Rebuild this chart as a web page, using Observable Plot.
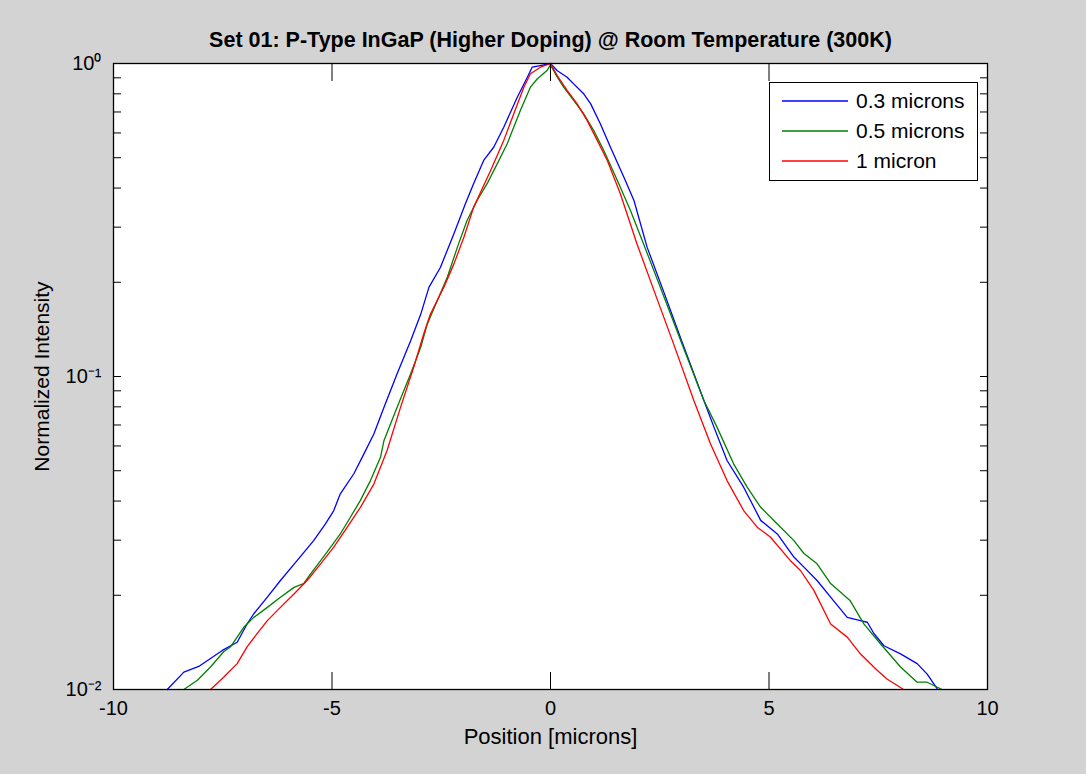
<!DOCTYPE html>
<html><head><meta charset="utf-8">
<script src="https://cdn.jsdelivr.net/npm/d3@7"></script>
<script src="https://cdn.jsdelivr.net/npm/@observablehq/plot@0.6"></script>
<style>
html,body{margin:0;padding:0;background:#d3d3d3;}
body{font-family:"Liberation Sans",Arial,sans-serif;}
#wrap{position:relative;width:1086px;height:774px;overflow:hidden;}
#legend{position:absolute;left:769px;top:82px;width:207px;height:97px;background:#fff;border:1px solid #000;}
.row{position:absolute;left:0;height:30px;display:flex;align-items:center;font-size:21px;color:#000;}
.row svg{margin-left:12px;margin-right:8px;}
</style>
</head><body>
<div id="wrap"></div>
<script>
const title = "Set 01: P-Type InGaP (Higher Doping) @ Room Temperature (300K)";
const xLabel = "Position [microns]";
const yLabel = "Normalized Intensity";
const seriesNames = ["0.3 microns", "0.5 microns", "1 micron"];
const seriesColors = ["#0000ff", "#008000", "#ff0000"];

const xTicks = [-10, -5, 0, 5, 10];
const yMajor = [0.01, 0.1, 1];
const yTickLabels = ["10\u207B\u00B2", "10\u207B\u00B9", "10\u2070"];

// 0.3 microns
const blueX = [-8.77,-8.39,-8.05,-7.51,-7.17,-6.94,-6.79,-6.48,-6.18,-5.80,-5.42,-5.15,-4.96,-4.81,-4.50,-4.27,-4.04,-3.81,-3.51,-3.20,-2.97,-2.78,-2.52,-2.21,-1.95,-1.76,-1.53,-1.30,-1.07,-0.76,-0.53,-0.42,-0.23,0,0.15,0.38,0.53,0.76,0.92,1.14,1.37,1.68,1.91,2.21,2.6,3.0,3.51,3.74,4.04,4.42,4.81,5.19,5.57,5.80,6.10,6.48,6.79,7.09,7.25,7.40,7.63,8.01,8.39,8.62,8.85];
const blueY = [0.0100,0.01136,0.01185,0.01333,0.01416,0.01622,0.01746,0.01972,0.0223,0.0258,0.0299,0.0338,0.0373,0.0422,0.0489,0.0566,0.0656,0.0798,0.102,0.130,0.158,0.193,0.223,0.286,0.356,0.413,0.490,0.540,0.626,0.780,0.904,0.973,0.985,1.0,0.950,0.904,0.861,0.800,0.743,0.642,0.541,0.433,0.365,0.259,0.185,0.130,0.0838,0.0689,0.0539,0.0443,0.0347,0.0314,0.0265,0.0246,0.0223,0.0192,0.0170,0.0166,0.0164,0.0151,0.0138,0.0130,0.0121,0.0112,0.01005];

// 0.5 microns
const greenX = [-8.39,-8.08,-7.78,-7.48,-7.32,-7.17,-7.02,-6.79,-6.48,-6.18,-5.87,-5.65,-5.49,-5.26,-5.03,-4.81,-4.58,-4.35,-4.12,-3.89,-3.81,-3.51,-3.20,-2.97,-2.82,-2.59,-2.36,-2.13,-1.91,-1.68,-1.45,-1.22,-0.99,-0.69,-0.46,-0.30,-0.08,0,0.11,0.30,0.53,0.76,0.99,1.22,1.53,1.83,2.13,2.5,3.0,3.51,3.81,4.19,4.50,4.81,5.19,5.57,5.80,6.10,6.41,6.86,7.17,7.55,8.01,8.39,8.62,8.96];
const greenY = [0.0100,0.0107,0.0118,0.0132,0.0137,0.0147,0.0158,0.0170,0.0183,0.0197,0.0212,0.0218,0.0234,0.0258,0.0285,0.0314,0.0355,0.0402,0.0465,0.0552,0.0625,0.0798,0.102,0.124,0.147,0.175,0.208,0.259,0.315,0.365,0.413,0.478,0.554,0.708,0.840,0.894,0.95,0.99,0.927,0.840,0.762,0.691,0.611,0.527,0.423,0.339,0.265,0.195,0.128,0.0838,0.0689,0.0526,0.0443,0.0382,0.0338,0.0299,0.0272,0.0252,0.0218,0.0192,0.0162,0.0140,0.0118,0.01055,0.01055,0.0100];

// 1 micron
const redX = [-7.78,-7.48,-7.17,-6.94,-6.71,-6.48,-6.18,-5.87,-5.57,-5.26,-4.96,-4.65,-4.35,-4.04,-3.74,-3.43,-3.13,-2.90,-2.75,-2.44,-2.21,-1.98,-1.76,-1.37,-1.07,-0.84,-0.61,-0.46,-0.23,0,0.15,0.38,0.61,0.84,1.07,1.30,1.60,1.98,2.4,2.8,3.28,3.66,4.04,4.42,4.73,5.03,5.49,5.72,6.03,6.41,6.79,7.09,7.48,7.70,8.08];
const redY = [0.0100,0.01094,0.0121,0.0137,0.0151,0.0166,0.0183,0.0202,0.0223,0.0252,0.0285,0.0330,0.0382,0.0454,0.058,0.0798,0.107,0.137,0.158,0.193,0.229,0.279,0.347,0.455,0.568,0.691,0.840,0.927,0.973,1.0,0.916,0.820,0.743,0.657,0.568,0.490,0.383,0.265,0.183,0.129,0.0838,0.0610,0.0465,0.0373,0.0330,0.0307,0.0258,0.0240,0.0207,0.0162,0.0147,0.0130,0.0115,0.0108,0.0100];

const seriesXs = [blueX, greenX, redX];
const seriesYs = [blueY, greenY, redY];
const rows = seriesNames.flatMap((name, s) => seriesXs[s].map((x, i) => ({series: name, x, y: seriesYs[s][i]})));

const yAll = [];
for (const m of [0.01, 0.1]) for (let k = 1; k <= 9; k++) yAll.push(+(m * k).toPrecision(3));
yAll.push(1);

const font = '"Liberation Sans", Arial, sans-serif';
const chart = Plot.plot({
  width: 1086, height: 774,
  marginTop: 63, marginRight: 99, marginBottom: 85, marginLeft: 113,
  style: {background: "transparent", fontFamily: font, fontSize: "20px", color: "#000", overflow: "visible"},
  x: {domain: [-10, 10]},
  y: {type: "log", domain: [0.01, 1]},
  color: {domain: seriesNames, range: seriesColors},
  marks: [
    Plot.frame({fill: "white"}),
    Plot.line(rows, {x: "x", y: "y", z: "series", stroke: "series", strokeWidth: 1.3}),
    Plot.frame({stroke: "black", strokeWidth: 1.3}),
    Plot.axisX(xTicks, {anchor: "bottom", tickSize: 0, tickPadding: 11, tickFormat: d => String(d), label: null, fontSize: 20}),
    Plot.axisX(xTicks, {anchor: "bottom", tickSize: 17, dy: -17, tickFormat: () => "", label: null, stroke: "black"}),
    Plot.axisX(xTicks, {anchor: "top", tickSize: 17, dy: 17, tickFormat: () => "", label: null, stroke: "black"}),
    Plot.axisY(yMajor, {anchor: "left", tickSize: 0, tickPadding: 12, tickFormat: d => yTickLabels[yMajor.indexOf(d)], label: null, fontSize: 20}),
    Plot.axisY(yAll, {anchor: "left", tickSize: 8, dx: 8, tickFormat: () => "", label: null, stroke: "black"}),
    Plot.axisY(yAll, {anchor: "right", tickSize: 8, dx: -8, tickFormat: () => "", label: null, stroke: "black"}),
    Plot.text([title], {frameAnchor: "top", lineAnchor: "middle", dy: -23, text: d => d, fontWeight: "bold", fontSize: 21.5}),
    Plot.text([xLabel], {frameAnchor: "bottom", lineAnchor: "middle", dy: 47, text: d => d, fontSize: 22}),
    Plot.text([yLabel], {frameAnchor: "left", textAnchor: "middle", lineAnchor: "middle", dx: -71, rotate: -90, text: d => d, fontSize: 21})
  ]
});
const wrap = document.getElementById("wrap");
wrap.appendChild(chart);

const legend = document.createElement("div");
legend.id = "legend";
seriesNames.forEach((name, i) => {
  const row = document.createElement("div");
  row.className = "row";
  row.style.top = (3 + i * 30) + "px";
  row.innerHTML = `<svg width="66" height="4"><line x1="0" y1="2" x2="66" y2="2" stroke="${seriesColors[i]}" stroke-width="1.3"/></svg><span>${name}</span>`;
  legend.appendChild(row);
});
wrap.appendChild(legend);
</script>
</body></html>
